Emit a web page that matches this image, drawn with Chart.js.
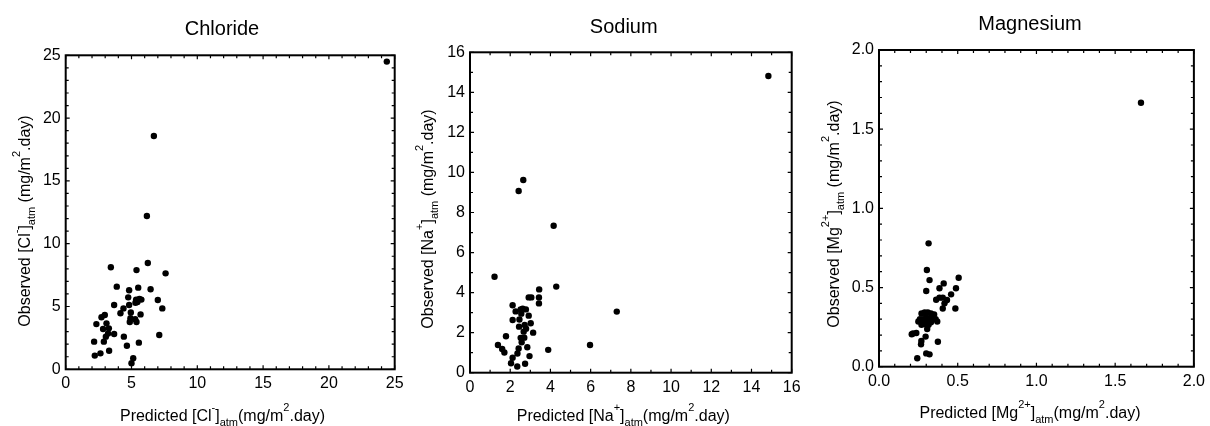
<!DOCTYPE html>
<html>
<head>
<meta charset="utf-8">
<script src="https://cdn.jsdelivr.net/npm/chart.js@4.4.1/dist/chart.umd.min.js"></script>
<style>
  html, body { margin: 0; padding: 0; background: #fff; }
  #wrap { position: relative; width: 1210px; height: 426px; overflow: hidden; background: #fff; }
  #wrap canvas { position: absolute; left: 0; top: 0; }
</style>
</head>
<body>
<div id="wrap">
  <canvas id="cl" width="1210" height="426"></canvas>
  <canvas id="na" width="1210" height="426"></canvas>
  <canvas id="mg" width="1210" height="426"></canvas>
</div>
<script>
// Panel names
const panelTitles = ['Chloride', 'Sodium', 'Magnesium'];

// Chloride: predicted vs observed deposition (mg/m2.day)
const clPredicted = [24.4, 6.70, 6.17, 6.24, 3.43, 5.38, 7.59, 3.88, 6.45, 4.82, 5.51, 4.75, 3.68, 4.82,
  5.35, 5.45, 5.60, 5.75, 5.30, 7.00, 7.34, 4.39, 4.16, 4.95, 5.69, 4.92, 5.28, 4.87, 5.38, 2.97, 2.72,
  2.33, 3.10, 2.84, 3.28, 3.22, 3.68, 3.05, 4.42, 7.11, 2.16, 2.90, 5.56, 4.65, 3.30, 2.64, 2.21, 5.13, 5.00];
const clObserved = [24.5, 18.57, 12.2, 8.46, 8.12, 7.90, 7.64, 6.58, 6.37, 6.29, 6.50, 5.73, 5.12, 5.12,
  5.55, 5.35, 5.60, 5.55, 5.30, 5.52, 4.85, 4.85, 4.46, 4.53, 4.37, 4.06, 3.98, 3.77, 3.77, 4.32, 4.14,
  3.60, 3.66, 3.21, 3.26, 2.86, 2.81, 2.60, 2.60, 2.73, 2.20, 2.20, 2.12, 1.88, 1.48, 1.27, 1.09, 0.88, 0.48];

// Sodium
const naPredicted = [14.84, 2.65, 2.42, 4.16, 1.22, 4.29, 3.44, 2.92, 3.05, 3.43, 3.43, 2.12, 7.30, 5.97,
  3.89, 1.39, 1.79, 2.27, 2.52, 2.62, 2.78, 2.55, 2.12, 2.46, 2.92, 3.02, 2.72, 2.44, 2.79, 2.67, 3.14,
  2.52, 2.70, 2.57, 2.85, 2.42, 1.60, 1.71, 2.36, 2.12, 2.96, 2.04, 2.74, 2.35];
const naObserved = [14.82, 9.62, 9.07, 7.34, 4.79, 4.30, 4.16, 3.76, 3.76, 3.76, 3.46, 3.37, 3.05, 1.38,
  1.14, 1.38, 1.82, 3.06, 3.16, 3.20, 3.16, 2.95, 2.63, 2.66, 2.85, 2.47, 2.38, 2.30, 2.20, 2.05, 2.00,
  1.74, 1.75, 1.52, 1.27, 1.21, 1.18, 1.01, 0.96, 0.75, 0.83, 0.47, 0.45, 0.31];

// Magnesium
const mgPredicted = [1.664, 0.315, 0.304, 0.321, 0.506, 0.411, 0.384, 0.489, 0.300, 0.458, 0.363, 0.384,
  0.405, 0.432, 0.416, 0.485, 0.405, 0.270, 0.290, 0.310, 0.330, 0.350, 0.260, 0.280, 0.300, 0.320, 0.340,
  0.360, 0.250, 0.270, 0.300, 0.330, 0.370, 0.270, 0.290, 0.315, 0.216, 0.237, 0.208, 0.306, 0.296, 0.269,
  0.267, 0.374, 0.300, 0.321, 0.243];
const mgObserved = [1.667, 0.779, 0.611, 0.547, 0.562, 0.526, 0.495, 0.495, 0.478, 0.457, 0.423, 0.436,
  0.436, 0.421, 0.400, 0.368, 0.368, 0.336, 0.342, 0.342, 0.336, 0.330, 0.300, 0.300, 0.310, 0.305, 0.300,
  0.300, 0.285, 0.280, 0.280, 0.280, 0.285, 0.265, 0.270, 0.265, 0.210, 0.213, 0.205, 0.238, 0.190, 0.162,
  0.141, 0.158, 0.084, 0.078, 0.053];

// Tick values and labels
const clTicks = [0, 5, 10, 15, 20, 25];
const clTickLabels = ['0', '5', '10', '15', '20', '25'];
const naTicks = [0, 2, 4, 6, 8, 10, 12, 14, 16];
const naTickLabels = ['0', '2', '4', '6', '8', '10', '12', '14', '16'];
const mgTicks = [0, 0.5, 1.0, 1.5, 2.0];
const mgTickLabels = ['0.0', '0.5', '1.0', '1.5', '2.0'];

// Axis title pieces: n = normal, sup = superscript, sub = subscript
const clXTitle = [['n', 'Predicted [Cl'], ['sup', '-'], ['n', ']'], ['sub', 'atm'], ['n', '(mg/m'], ['sup', '2'], ['n', '.day)']];
const clYTitle = [['n', 'Observed [Cl'], ['sup', '-'], ['n', ']'], ['sub', 'atm'], ['n', ' (mg/m'], ['sup', '2'], ['n', '.day)']];
const naXTitle = [['n', 'Predicted [Na'], ['sup', '+'], ['n', ']'], ['sub', 'atm'], ['n', '(mg/m'], ['sup', '2'], ['n', '.day)']];
const naYTitle = [['n', 'Observed [Na'], ['sup', '+'], ['n', ']'], ['sub', 'atm'], ['n', ' (mg/m'], ['sup', '2'], ['n', '.day)']];
const mgXTitle = [['n', 'Predicted [Mg'], ['sup', '2+'], ['n', ']'], ['sub', 'atm'], ['n', '(mg/m'], ['sup', '2'], ['n', '.day)']];
const mgYTitle = [['n', 'Observed [Mg'], ['sup', '2+'], ['n', ']'], ['sub', 'atm'], ['n', ' (mg/m'], ['sup', '2'], ['n', '.day)']];

const FAMILY = '"Liberation Sans", Arial, Helvetica, sans-serif';
const pieceStyle = {
  n:   { size: 16, dy: 0 },
  sup: { size: 11, dy: -10 },
  sub: { size: 11, dy: 5 }
};

function drawRich(ctx, pieces, x, y, rot) {
  ctx.save();
  ctx.translate(x, y);
  if (rot) ctx.rotate(rot);
  ctx.fillStyle = '#000';
  ctx.textAlign = 'left';
  ctx.textBaseline = 'alphabetic';
  let total = 0;
  const widths = pieces.map(([k, t]) => {
    ctx.font = pieceStyle[k].size + 'px ' + FAMILY;
    const w = ctx.measureText(t).width;
    total += w;
    return w;
  });
  let cx = -total / 2;
  pieces.forEach(([k, t], i) => {
    ctx.font = pieceStyle[k].size + 'px ' + FAMILY;
    ctx.fillText(t, cx, pieceStyle[k].dy);
    cx += widths[i];
  });
  ctx.restore();
}

// Box frame, inward major/minor ticks on all four sides, and the texts
const framePlugin = {
  id: 'frameTicks',
  afterDraw(chart, args, o) {
    const { ctx, chartArea: a } = chart;
    const sx = chart.scales.x, sy = chart.scales.y;
    ctx.save();
    ctx.strokeStyle = '#000';
    ctx.lineWidth = 1.2;
    const marks = (scale, step, majors) => {
      const out = [];
      const n = Math.round((scale.max - scale.min) / step);
      for (let i = 0; i <= n; i++) {
        const v = scale.min + i * step;
        const isMajor = majors.some(m => Math.abs(m - v) < step / 10);
        out.push([scale.getPixelForValue(v), isMajor ? 4 : 3]);
      }
      return out;
    };
    ctx.beginPath();
    marks(sx, o.minor, o.ticks).forEach(([p, len]) => {
      ctx.moveTo(p, a.bottom); ctx.lineTo(p, a.bottom - len);
      ctx.moveTo(p, a.top); ctx.lineTo(p, a.top + len);
    });
    marks(sy, o.minor, o.ticks).forEach(([p, len]) => {
      ctx.moveTo(a.left, p); ctx.lineTo(a.left + len, p);
      ctx.moveTo(a.right, p); ctx.lineTo(a.right - len, p);
    });
    ctx.stroke();
    ctx.lineWidth = 2;
    ctx.strokeRect(a.left, a.top, a.right - a.left, a.bottom - a.top);

    ctx.fillStyle = '#000';
    ctx.font = '20px ' + FAMILY;
    ctx.textAlign = 'center';
    ctx.textBaseline = 'alphabetic';
    ctx.fillText(o.title, o.titleX, o.titleY);
    ctx.restore();

    drawRich(ctx, o.xTitle, o.xTitleX, o.xTitleY, 0);
    drawRich(ctx, o.yTitle, o.yTitleX, o.yTitleY, -Math.PI / 2);
  }
};

function makePanel(id, xs, ys, ticks, labels, minor, area, text) {
  const points = xs.map((x, i) => ({ x, y: ys[i] }));
  const lo = ticks[0], hi = ticks[ticks.length - 1];
  const axis = (isX) => ({
    type: 'linear',
    min: lo,
    max: hi,
    afterBuildTicks: s => { s.ticks = ticks.map(v => ({ value: v })); },
    afterFit: s => { if (isX) s.height = 30; else s.width = 40; },
    grid: { display: false, drawTicks: false },
    border: { display: false },
    ticks: {
      color: '#000',
      font: { family: FAMILY, size: 16 },
      padding: isX ? 5 : 5,
      maxRotation: 0,
      autoSkip: false,
      callback: (v, i) => labels[i]
    }
  });
  return new Chart(document.getElementById(id), {
    type: 'scatter',
    data: {
      datasets: [{
        data: points,
        backgroundColor: '#000',
        borderWidth: 0,
        pointRadius: 3.2,
        pointHoverRadius: 3.2
      }]
    },
    options: {
      responsive: false,
      animation: false,
      devicePixelRatio: 1,
      events: [],
      layout: {
        padding: {
          left: area.left - 40,
          right: 1210 - area.right,
          top: area.top,
          bottom: 426 - area.bottom - 30
        }
      },
      scales: { x: axis(true), y: axis(false) },
      plugins: {
        legend: { display: false },
        tooltip: { enabled: false },
        frameTicks: Object.assign({ ticks, minor }, text)
      }
    },
    plugins: [framePlugin]
  });
}

makePanel('cl', clPredicted, clObserved, clTicks, clTickLabels, 1,
  { left: 65.7, right: 394.7, top: 55.3, bottom: 369.3 },
  { title: panelTitles[0], titleX: 222, titleY: 35,
    xTitle: clXTitle, xTitleX: 222.5, xTitleY: 420.5,
    yTitle: clYTitle, yTitleX: 29.5, yTitleY: 221 });

makePanel('na', naPredicted, naObserved, naTicks, naTickLabels, 1,
  { left: 470, right: 791.7, top: 52.3, bottom: 372.7 },
  { title: panelTitles[1], titleX: 623.7, titleY: 33.3,
    xTitle: naXTitle, xTitleX: 623.3, xTitleY: 421,
    yTitle: naYTitle, yTitleX: 432.7, yTitleY: 219 });

makePanel('mg', mgPredicted, mgObserved, mgTicks, mgTickLabels, 0.1,
  { left: 879, right: 1196.7, top: 50, bottom: 366.7 },
  { title: panelTitles[2], titleX: 1030, titleY: 29.5,
    xTitle: mgXTitle, xTitleX: 1030, xTitleY: 418.3,
    yTitle: mgYTitle, yTitleX: 839, yTitleY: 214 });
</script>
</body>
</html>
